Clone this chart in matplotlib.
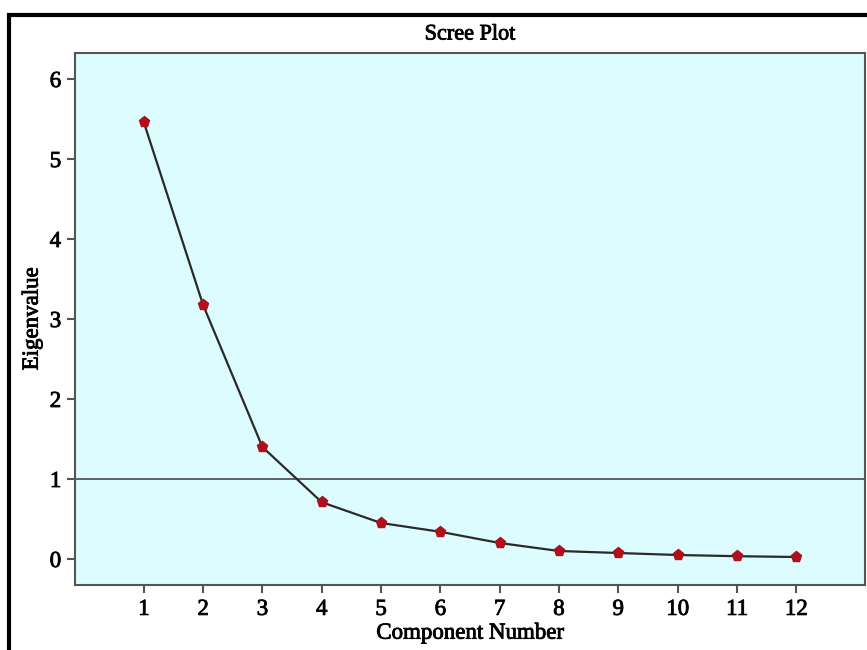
import matplotlib
matplotlib.use("Agg")
import matplotlib.pyplot as plt
import matplotlib.patheffects as pe
from matplotlib.patches import Rectangle

components = [1, 2, 3, 4, 5, 6, 7, 8, 9, 10, 11, 12]
eigenvalues = [5.46, 3.175, 1.40, 0.71, 0.45, 0.34, 0.20, 0.10, 0.075, 0.05, 0.035, 0.025]
y_ticks = [0, 1, 2, 3, 4, 5, 6]
ref_value = 1

plt.rcParams['font.family'] = ['Liberation Serif', 'DejaVu Serif']
# the source text looks a little heavier than plain regular weight
heavy = [pe.withStroke(linewidth=0.6, foreground='black')]

W, H = 867, 650
fig = plt.figure(figsize=(W / 100, H / 100), dpi=100)

# outer frame, cut off on the right and bottom like the source image
fig.patches.append(Rectangle((9 / W, -0.1), 1.2, 1 - 15 / H + 0.1,
                             transform=fig.transFigure, fill=False,
                             edgecolor='black', linewidth=3))

ax = fig.add_axes([75 / W, 1 - 585 / H, (865 - 75) / W, (585 - 53) / H])
ax.set_facecolor('#ddfcff')
for s in ax.spines.values():
    s.set_color('#555555')
    s.set_linewidth(1.5)

ax.axhline(ref_value, color='#555555', linewidth=1.3, zorder=1)
ax.plot(components, eigenvalues, color='#2a2a2a', linewidth=1.6, zorder=2)
ax.plot(components, eigenvalues, linestyle='none', marker='p', markersize=8,
        markerfacecolor='#b0101a', markeredgecolor='#b0101a', zorder=3)

ax.set_xlim(-0.16, 13.16)
ax.set_ylim(-0.325, 6.325)
ax.set_xticks(components)
ax.set_yticks(y_ticks)
ax.tick_params(axis='both', labelsize=16.5, length=6, width=1.5, color='#555555', pad=4)
for lbl in ax.get_xticklabels() + ax.get_yticklabels():
    lbl.set_path_effects(heavy)

ax.set_xlabel('Component Number', fontsize=16.5, labelpad=2, path_effects=heavy)
ax.set_ylabel('Eigenvalue', fontsize=16.5, labelpad=5, path_effects=heavy)
fig.text((75 + 865) / 2 / W, 1 - 35 / H, 'Scree Plot', ha='center', va='center',
         fontsize=16, path_effects=heavy)

fig.savefig('out.png', dpi=100)
